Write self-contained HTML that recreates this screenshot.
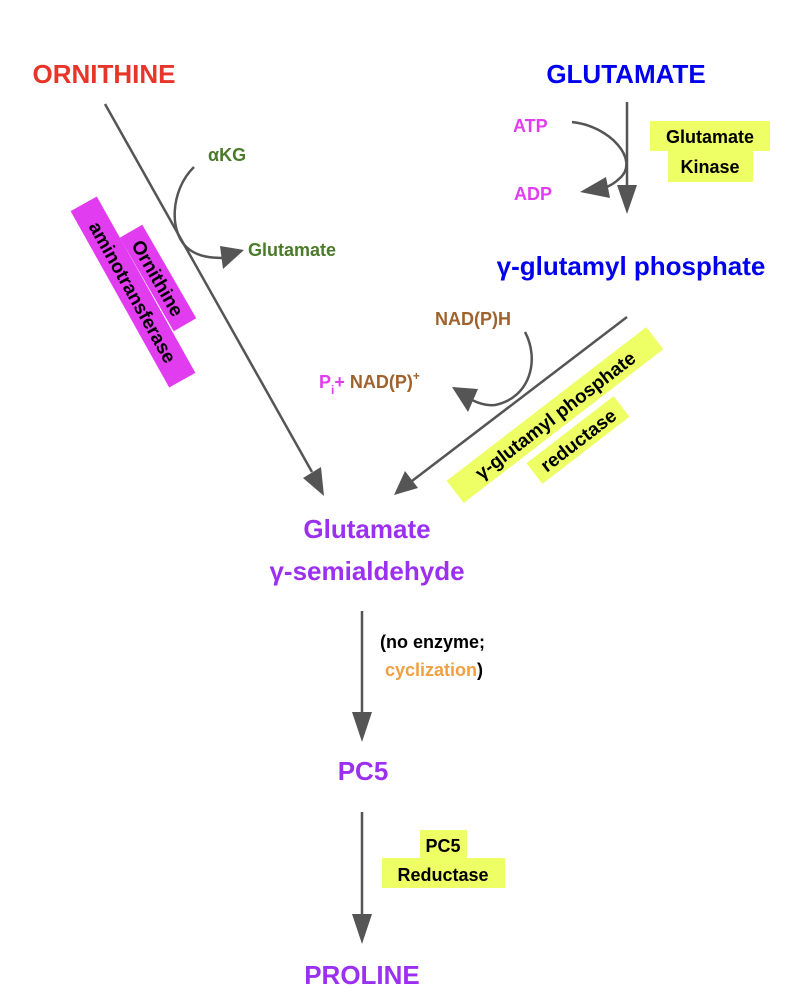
<!DOCTYPE html>
<html><head><meta charset="utf-8"><style>
html,body{margin:0;padding:0;background:#fff;}
svg{display:block;font-family:"Liberation Sans",sans-serif;font-weight:bold;}
</style></head><body>
<svg width="810" height="1008" viewBox="0 0 810 1008" xmlns="http://www.w3.org/2000/svg">
<defs>
<marker id="ah" markerWidth="10" markerHeight="10" refX="9" refY="5" orient="auto" markerUnits="userSpaceOnUse" viewBox="0 0 10 10">
</marker>
</defs>
<g fill="#555" stroke="#555">
<!-- ornithine line -->
<line x1="105" y1="104" x2="312" y2="472" stroke-width="2.5"/>
<polygon points="324,496 303,478 321,467" stroke="none"/>
<!-- glutamate kinase line -->
<line x1="627" y1="102" x2="627" y2="190" stroke-width="2.5"/>
<polygon points="627,214 617,185 637,185" stroke="none"/>
<!-- reductase line -->
<line x1="627" y1="317" x2="412" y2="481" stroke-width="2.5"/>
<polygon points="394,495 405,471 418,488" stroke="none"/>
<!-- vertical lines -->
<line x1="362" y1="611" x2="362" y2="715" stroke-width="2.5"/>
<polygon points="362,742 352,712 372,712" stroke="none"/>
<line x1="362" y1="812" x2="362" y2="917" stroke-width="2.5"/>
<polygon points="362,944 352,914 372,914" stroke="none"/>
<!-- arcs -->
<path d="M194,167 C170,190 168,235 190,250 C200,257 212,258 224,258" fill="none" stroke-width="2.5"/>
<polygon points="244,250 220,246 223,269" stroke="none"/>
<path d="M572,122 C610,126 640,160 620,178 C615,183 610,186 604,188" fill="none" stroke-width="2.5"/>
<polygon points="580,192 606,177 610,198" stroke="none"/>
<path d="M525,332 C540,360 530,398 495,405 C487,406 480,404 472,400" fill="none" stroke-width="2.5"/>
<polygon points="452,387 478,389 468,412" stroke="none"/>
</g>

<!-- highlight boxes -->
<rect x="650" y="121" width="120" height="30" fill="#eeff66"/>
<rect x="668" y="150" width="85" height="32" fill="#eeff66"/>
<rect x="420" y="830" width="47" height="29" fill="#eeff66"/>
<rect x="382" y="858" width="123" height="30" fill="#eeff66"/>

<g transform="translate(133,292) rotate(60.8)">
<rect x="-101" y="-15" width="202" height="30" fill="#e23cf0"/>
<text x="0" y="7" font-size="19" text-anchor="middle" fill="#000">aminotransferase</text>
</g>
<g transform="translate(158,278) rotate(60)">
<rect x="-54" y="-13" width="108" height="26" fill="#e23cf0"/>
<text x="0" y="7" font-size="19" text-anchor="middle" fill="#000">Ornithine</text>
</g>
<g transform="translate(555,415) rotate(-37.6)">
<rect x="-126" y="-14" width="252" height="28" fill="#eeff66"/>
<text x="0" y="7" font-size="19" text-anchor="middle" fill="#000">γ-glutamyl phosphate</text>
</g>
<g transform="translate(578,440) rotate(-37.6)">
<rect x="-55" y="-13" width="110" height="26" fill="#eeff66"/>
<text x="0" y="7" font-size="19" text-anchor="middle" fill="#000">reductase</text>
</g>

<!-- text -->
<text x="104" y="83" font-size="26" text-anchor="middle" fill="#e8352a">ORNITHINE</text>
<text x="626" y="83" font-size="26" text-anchor="middle" fill="#0000ee">GLUTAMATE</text>
<text x="208" y="161" font-size="18" fill="#4a7a2a">αKG</text>
<text x="248" y="256" font-size="18" fill="#4a7a2a">Glutamate</text>
<text x="513" y="132" font-size="18" fill="#e23cf0">ATP</text>
<text x="514" y="200" font-size="18" fill="#e23cf0">ADP</text>
<text x="710" y="143" font-size="18" text-anchor="middle" fill="#000">Glutamate</text>
<text x="710" y="173" font-size="18" text-anchor="middle" fill="#000">Kinase</text>
<text x="631" y="275" font-size="26" text-anchor="middle" fill="#0000ee">γ-glutamyl phosphate</text>
<text x="435" y="325" font-size="18" fill="#a0622d">NAD(P)H</text>
<text x="319" y="388" font-size="18" fill="#e23cf0">P<tspan font-size="12" dy="6">i</tspan><tspan dy="-6">+</tspan> <tspan fill="#a0622d">NAD(P)</tspan><tspan fill="#a0622d" font-size="12" dy="-8">+</tspan></text>
<text x="367" y="538" font-size="26" text-anchor="middle" fill="#9b30f0">Glutamate</text>
<text x="367" y="580" font-size="26" text-anchor="middle" fill="#9b30f0">γ-semialdehyde</text>
<text x="380" y="648" font-size="18" fill="#000">(no enzyme;</text>
<text x="385" y="676" font-size="18" fill="#f0a040">cyclization<tspan fill="#000">)</tspan></text>
<text x="363" y="780" font-size="26" text-anchor="middle" fill="#9b30f0">PC5</text>
<text x="443" y="852" font-size="18" text-anchor="middle" fill="#000">PC5</text>
<text x="443" y="881" font-size="18" text-anchor="middle" fill="#000">Reductase</text>
<text x="362" y="984" font-size="26" text-anchor="middle" fill="#9b30f0">PROLINE</text>
</svg>
</body></html>
